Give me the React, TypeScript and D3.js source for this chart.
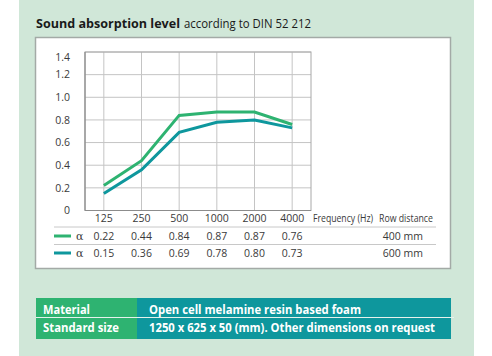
import React from "react";
import * as d3 from "d3";

const frequencies = ["125", "250", "500", "1000", "2000", "4000"];
const alpha400 = [0.22, 0.44, 0.84, 0.87, 0.87, 0.76];
const alpha600 = [0.15, 0.36, 0.69, 0.78, 0.8, 0.73];
const yTicks = [0, 0.2, 0.4, 0.6, 0.8, 1.0, 1.2, 1.4];
const seriesNames = ["400 mm", "600 mm"];
const tableLabels = ["Material", "Standard size"];
const tableValues = ["Open cell melamine resin based foam", "1250 x 625 x 50 (mm). Other dimensions on request"];

const GREEN = "#2eb371";
const TEAL = "#0e979d";
const FONT = "'Open Sans', 'Noto Sans', sans-serif";
const TXT = "#3a3a3a";

export default function App() {
  const left = 85, right = 311, top = 52, bottom = 210.5;
  const x = d3.scalePoint<string>().domain(frequencies).range([left, right]).padding(0.5);
  const y = d3.scaleLinear().domain([0, 1.4]).range([bottom, top]);
  const line = d3
    .line<number>()
    .x((_, i) => x(frequencies[i]) as number)
    .y((d) => y(d));
  const series = [
    { vals: alpha400, color: GREEN, name: seriesNames[0] },
    { vals: alpha600, color: TEAL, name: seriesNames[1] },
  ];
  const rowY = [240, 257];
  const labelLens = [47, 76];
  const valueLens = [212, 286];
  return (
    <svg width={492} height={356} style={{ position: "absolute", left: 0, top: 0 }} fontFamily={FONT}>
      <rect x={0} y={0} width={492} height={356} fill="#ffffff" />
      <rect x={19} y={0} width={455} height={356} fill="#d0e7d8" />
      <text x={36} y={28} fontSize={13} fill="#1a1a1a" fontWeight="bold" textLength={144} lengthAdjust="spacingAndGlyphs">
        Sound absorption level
      </text>
      <text x={184} y={28} fontSize={12.5} fill="#1a1a1a" textLength={127} lengthAdjust="spacingAndGlyphs">
        according to DIN 52 212
      </text>
      <rect x={35.5} y={37.5} width={415} height={231} fill="#ffffff" stroke="#a3aaa6" strokeWidth={1.5} />
      {/* grid */}
      {yTicks.slice(1).map((t) => (
        <line key={"h" + t} x1={left} x2={right} y1={y(t)} y2={y(t)} stroke="#c4c4c4" strokeWidth={1} />
      ))}
      {frequencies.map((f) => (
        <line key={"v" + f} x1={x(f)} x2={x(f)} y1={top} y2={bottom} stroke="#c4c4c4" strokeWidth={1} />
      ))}
      <rect x={left} y={top} width={right - left} height={bottom - top} fill="none" stroke="#a8a8a8" strokeWidth={1} />
      <line x1={left} x2={left} y1={top} y2={bottom} stroke="#8c8c8c" strokeWidth={1.2} />
      <line x1={left} x2={right} y1={bottom} y2={bottom} stroke="#8c8c8c" strokeWidth={1.2} />
      {/* y labels */}
      {yTicks.map((t) => (
        <text
          key={"yl" + t}
          x={70}
          y={Math.max(y(t), top + 5)}
          dy="0.35em"
          textAnchor="end"
          fontSize={10.5}
          fill={TXT}
        >
          {t === 0 ? "0" : t.toFixed(1)}
        </text>
      ))}
      {/* lines */}
      {series.map((s) => (
        <path key={s.name} d={line(s.vals) || ""} fill="none" stroke={s.color} strokeWidth={3} strokeLinejoin="miter" />
      ))}
      {/* x labels */}
      {frequencies.map((f) => (
        <text key={"xl" + f} x={x(f)} y={222} textAnchor="middle" fontSize={10.5} fill={TXT}>
          {f}
        </text>
      ))}
      <text x={313} y={222} fontSize={10} fill={TXT} textLength={60} lengthAdjust="spacingAndGlyphs">Frequency (Hz)</text>
      <text x={379} y={222} fontSize={10} fill={TXT} textLength={54} lengthAdjust="spacingAndGlyphs">Row distance</text>
      <line x1={54} x2={436} y1={227} y2={227} stroke="#c8c8c8" strokeWidth={1} />
      <line x1={54} x2={436} y1={244.5} y2={244.5} stroke="#c8c8c8" strokeWidth={1} />
      {series.map((s, si) => (
        <g key={"row" + si}>
          <line x1={54} x2={71} y1={rowY[si] - 4} y2={rowY[si] - 4} stroke={s.color} strokeWidth={3} />
          <text x={76} y={rowY[si]} fontSize={11} fill={TXT} fontFamily="'DejaVu Serif', serif">α</text>
          {s.vals.map((v, i) => (
            <text key={i} x={x(frequencies[i])} y={rowY[si]} textAnchor="middle" fontSize={10.5} fill={TXT}>
              {v.toFixed(2)}
            </text>
          ))}
          <text x={423} y={rowY[si]} textAnchor="end" fontSize={10.5} fill={TXT}>{s.name}</text>
        </g>
      ))}
      {/* bottom table */}
      {tableLabels.map((lab, i) => {
        const ry = i === 0 ? 298 : 317.5;
        const h = i === 0 ? 19 : 21.5;
        const by = i === 0 ? 314 : 331.5;
        return (
          <g key={lab}>
            <rect x={36} y={ry} width={101} height={h} fill={GREEN} />
            <rect x={137} y={ry} width={314} height={h} fill={TEAL} />
            <text x={43} y={by} fontSize={11.5} fontWeight="bold" fill="#ffffff" textLength={labelLens[i]} lengthAdjust="spacingAndGlyphs">{lab}</text>
            <text x={149} y={by} fontSize={11.5} fontWeight="bold" fill="#ffffff" textLength={valueLens[i]} lengthAdjust="spacingAndGlyphs">{tableValues[i]}</text>
          </g>
        );
      })}
      <line x1={36} x2={454} y1={317.5} y2={317.5} stroke="#e6f2ec" strokeWidth={1} />
    </svg>
  );
}
